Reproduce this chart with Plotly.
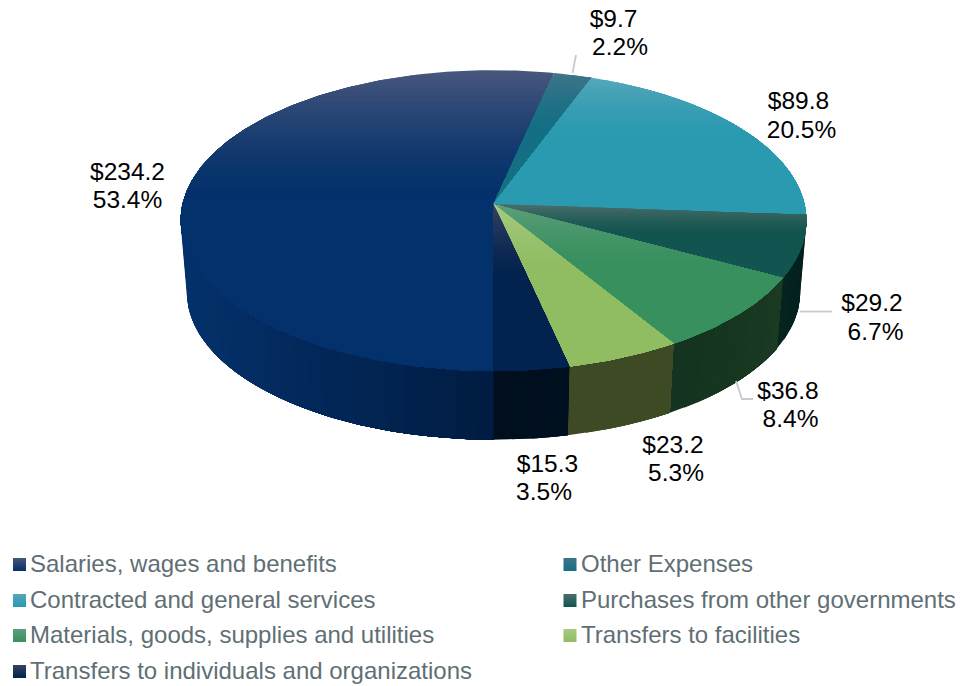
import math
import plotly.graph_objects as go

# ---- data ----
categories = ["Salaries, wages and benefits", "Other Expenses", "Contracted and general services",
              "Purchases from other governments", "Materials, goods, supplies and utilities",
              "Transfers to facilities", "Transfers to individuals and organizations"]
values = [234.2, 9.7, 89.8, 29.2, 36.8, 23.2, 15.3]
percents = [53.4, 2.2, 20.5, 6.7, 8.4, 5.3, 3.5]

# ---- style ----
base_colors = ["#03316B", "#146F85", "#2A9AB0", "#12544F", "#39905F", "#90BC62", "#03234F"]
top_colors = ["#46567C", "#3F7488", "#54A6BA", "#4A6E6A", "#5C9F7B", "#A6CB82", "#35425F"]
side_left = ["#04316B", "#10505F", "#15505F", "#05231F", "#143320", "#3D4A24", "#000E1E"]
side_right = ["#001B3F", "#10505F", "#15505F", "#02201E", "#1A3A22", "#3E4A23", "#00101F"]
label_color = "#000000"
legend_color = "#5F6F74"
leader_color = "#C5CBD0"
FONT = "Liberation Sans"

# label positions (centre x, y of the value line, y of the percent line)
label_pos = [(127.5, 173.5, 202), (613.5, 20.5, 49), (798.5, 103, 131.5), (872, 305, 333.5),
             (788, 393, 421), (673, 447, 475), (547.5, 466, 494)]
pct_x = [127.5, 620, 801.5, 875.5, 790.5, 676, 544]
leaders = [[(576, 55), (572.5, 73)], [(800, 311.5), (832, 311.5)], [(736, 381), (742, 399), (753, 399)]]
legend_x = [19.5, 570]
legend_text_x = [30, 581]
legend_y = [565.5, 601.5, 636.5, 672.5]

# pie projection
cx, cy, a, b, k = 493.5, 204, 311, 148.6, 0.11
depth, bottom_scale = 72, 0.98


def project(theta_deg, s=1.0, d=0.0):
    t = math.radians(theta_deg)
    u, v = math.sin(t), -math.cos(t)
    w = 1 - k * v
    return cx + s * a * u / w, cy + s * b * v / w + d


def hex2rgb(h):
    return [int(h[i:i + 2], 16) for i in (1, 3, 5)]


def mix(c1, c2, t):
    p, q = hex2rgb(c1), hex2rgb(c2)
    return "rgb(%d,%d,%d)" % tuple(round(p[i] + (q[i] - p[i]) * t) for i in range(3))


def frange(t0, t1, step=1.0):
    n = max(2, int(abs(t1 - t0) / step) + 1)
    return [t0 + (t1 - t0) * i / (n - 1) for i in range(n)]


def clip_below(poly, y0):
    out = []
    for i in range(len(poly)):
        p, q = poly[i], poly[(i + 1) % len(poly)]
        pin, qin = p[1] >= y0, q[1] >= y0
        if pin:
            out.append(p)
        if pin != qin:
            f = (y0 - p[1]) / (q[1] - p[1])
            out.append((p[0] + f * (q[0] - p[0]), y0))
    return out


def add_poly(fig, poly, color, name):
    xs = [p[0] for p in poly] + [poly[0][0]]
    ys = [p[1] for p in poly] + [poly[0][1]]
    fig.add_trace(go.Scatter(x=xs, y=ys, mode="lines", fill="toself", fillcolor=color,
                             line=dict(width=0, color=color), name=name,
                             hoverinfo="skip", showlegend=False))


fig = go.Figure()

total = sum(values)
angles = [180.0]
for val in values:
    angles.append(angles[-1] + val / total * 360)

# side wall, painted left to right inside every slice
VIS_LO, VIS_HI = 90.0, 270.0
for i, name in enumerate(categories):
    for t0, t1 in ((angles[i], angles[i + 1]), (angles[i] - 360, angles[i + 1] - 360)):
        lo, hi = max(t0, VIS_LO), min(t1, VIS_HI)
        if hi <= lo:
            continue
        x_left, x_right = project(hi)[0], project(lo)[0]
        n = max(1, int((hi - lo) / 3))
        for j in range(n):
            h = hi - (hi - lo) * j / n
            f = (project(h)[0] - x_left) / max(1, x_right - x_left)
            arc = frange(lo, h)
            poly = [project(t) for t in arc] + [project(t, bottom_scale, depth) for t in reversed(arc)]
            add_poly(fig, poly, mix(side_left[i], side_right[i], f), name)

# top face, with a lighter vertical wash in the upper part of every slice
for i, name in enumerate(categories):
    poly = [(cx, cy)] + [project(t) for t in frange(angles[i], angles[i + 1])]
    ymin, ymax = min(p[1] for p in poly), max(p[1] for p in poly)
    yend = ymin + 0.42 * (ymax - ymin)
    n = 24
    for j in range(n + 1):
        y0 = ymin + (yend - ymin) * j / n - (1 if j == 0 else 0)
        clipped = clip_below(poly, y0)
        if len(clipped) > 2:
            add_poly(fig, clipped, mix(top_colors[i], base_colors[i], 1 - (1 - j / n) ** 1.5), name)

# leader lines
for seg in leaders:
    fig.add_trace(go.Scatter(x=[p[0] for p in seg], y=[p[1] for p in seg], mode="lines",
                             line=dict(color=leader_color, width=1.8), hoverinfo="skip", showlegend=False))

# data labels
fig.add_trace(go.Scatter(x=[p[0] for p in label_pos], y=[p[1] for p in label_pos], mode="text",
                         text=[f"${v:.1f}" for v in values], textposition="middle center",
                         textfont=dict(family=FONT, size=24.5, color=label_color),
                         hoverinfo="skip", showlegend=False))
fig.add_trace(go.Scatter(x=pct_x, y=[p[2] for p in label_pos], mode="text",
                         text=[f"{p:.1f}%" for p in percents], textposition="middle center",
                         textfont=dict(family=FONT, size=24.5, color=label_color),
                         hoverinfo="skip", showlegend=False))

# legend grid
for i, name in enumerate(categories):
    col, row = i % 2, i // 2
    fig.add_trace(go.Scatter(x=[legend_x[col]], y=[legend_y[row] - 1], mode="markers",
                             marker=dict(symbol="square", size=13, color=top_colors[i],
                                         gradient=dict(type="vertical", color=base_colors[i]),
                                         line=dict(width=0)),
                             hoverinfo="skip", showlegend=False))
    fig.add_trace(go.Scatter(x=[legend_text_x[col]], y=[legend_y[row]], mode="text", text=[name],
                             textposition="middle right",
                             textfont=dict(family=FONT, size=24, color=legend_color),
                             hoverinfo="skip", showlegend=False))

fig.update_layout(width=961, height=686, margin=dict(l=0, r=0, t=0, b=0),
                  paper_bgcolor="white", plot_bgcolor="white", showlegend=False,
                  xaxis=dict(range=[0, 961], visible=False, fixedrange=True),
                  yaxis=dict(range=[686, 0], visible=False, fixedrange=True))
fig.write_html("out.html", config=dict(displayModeBar=False),
               post_script="document.body.style.margin='0';document.body.style.overflow='hidden';")
